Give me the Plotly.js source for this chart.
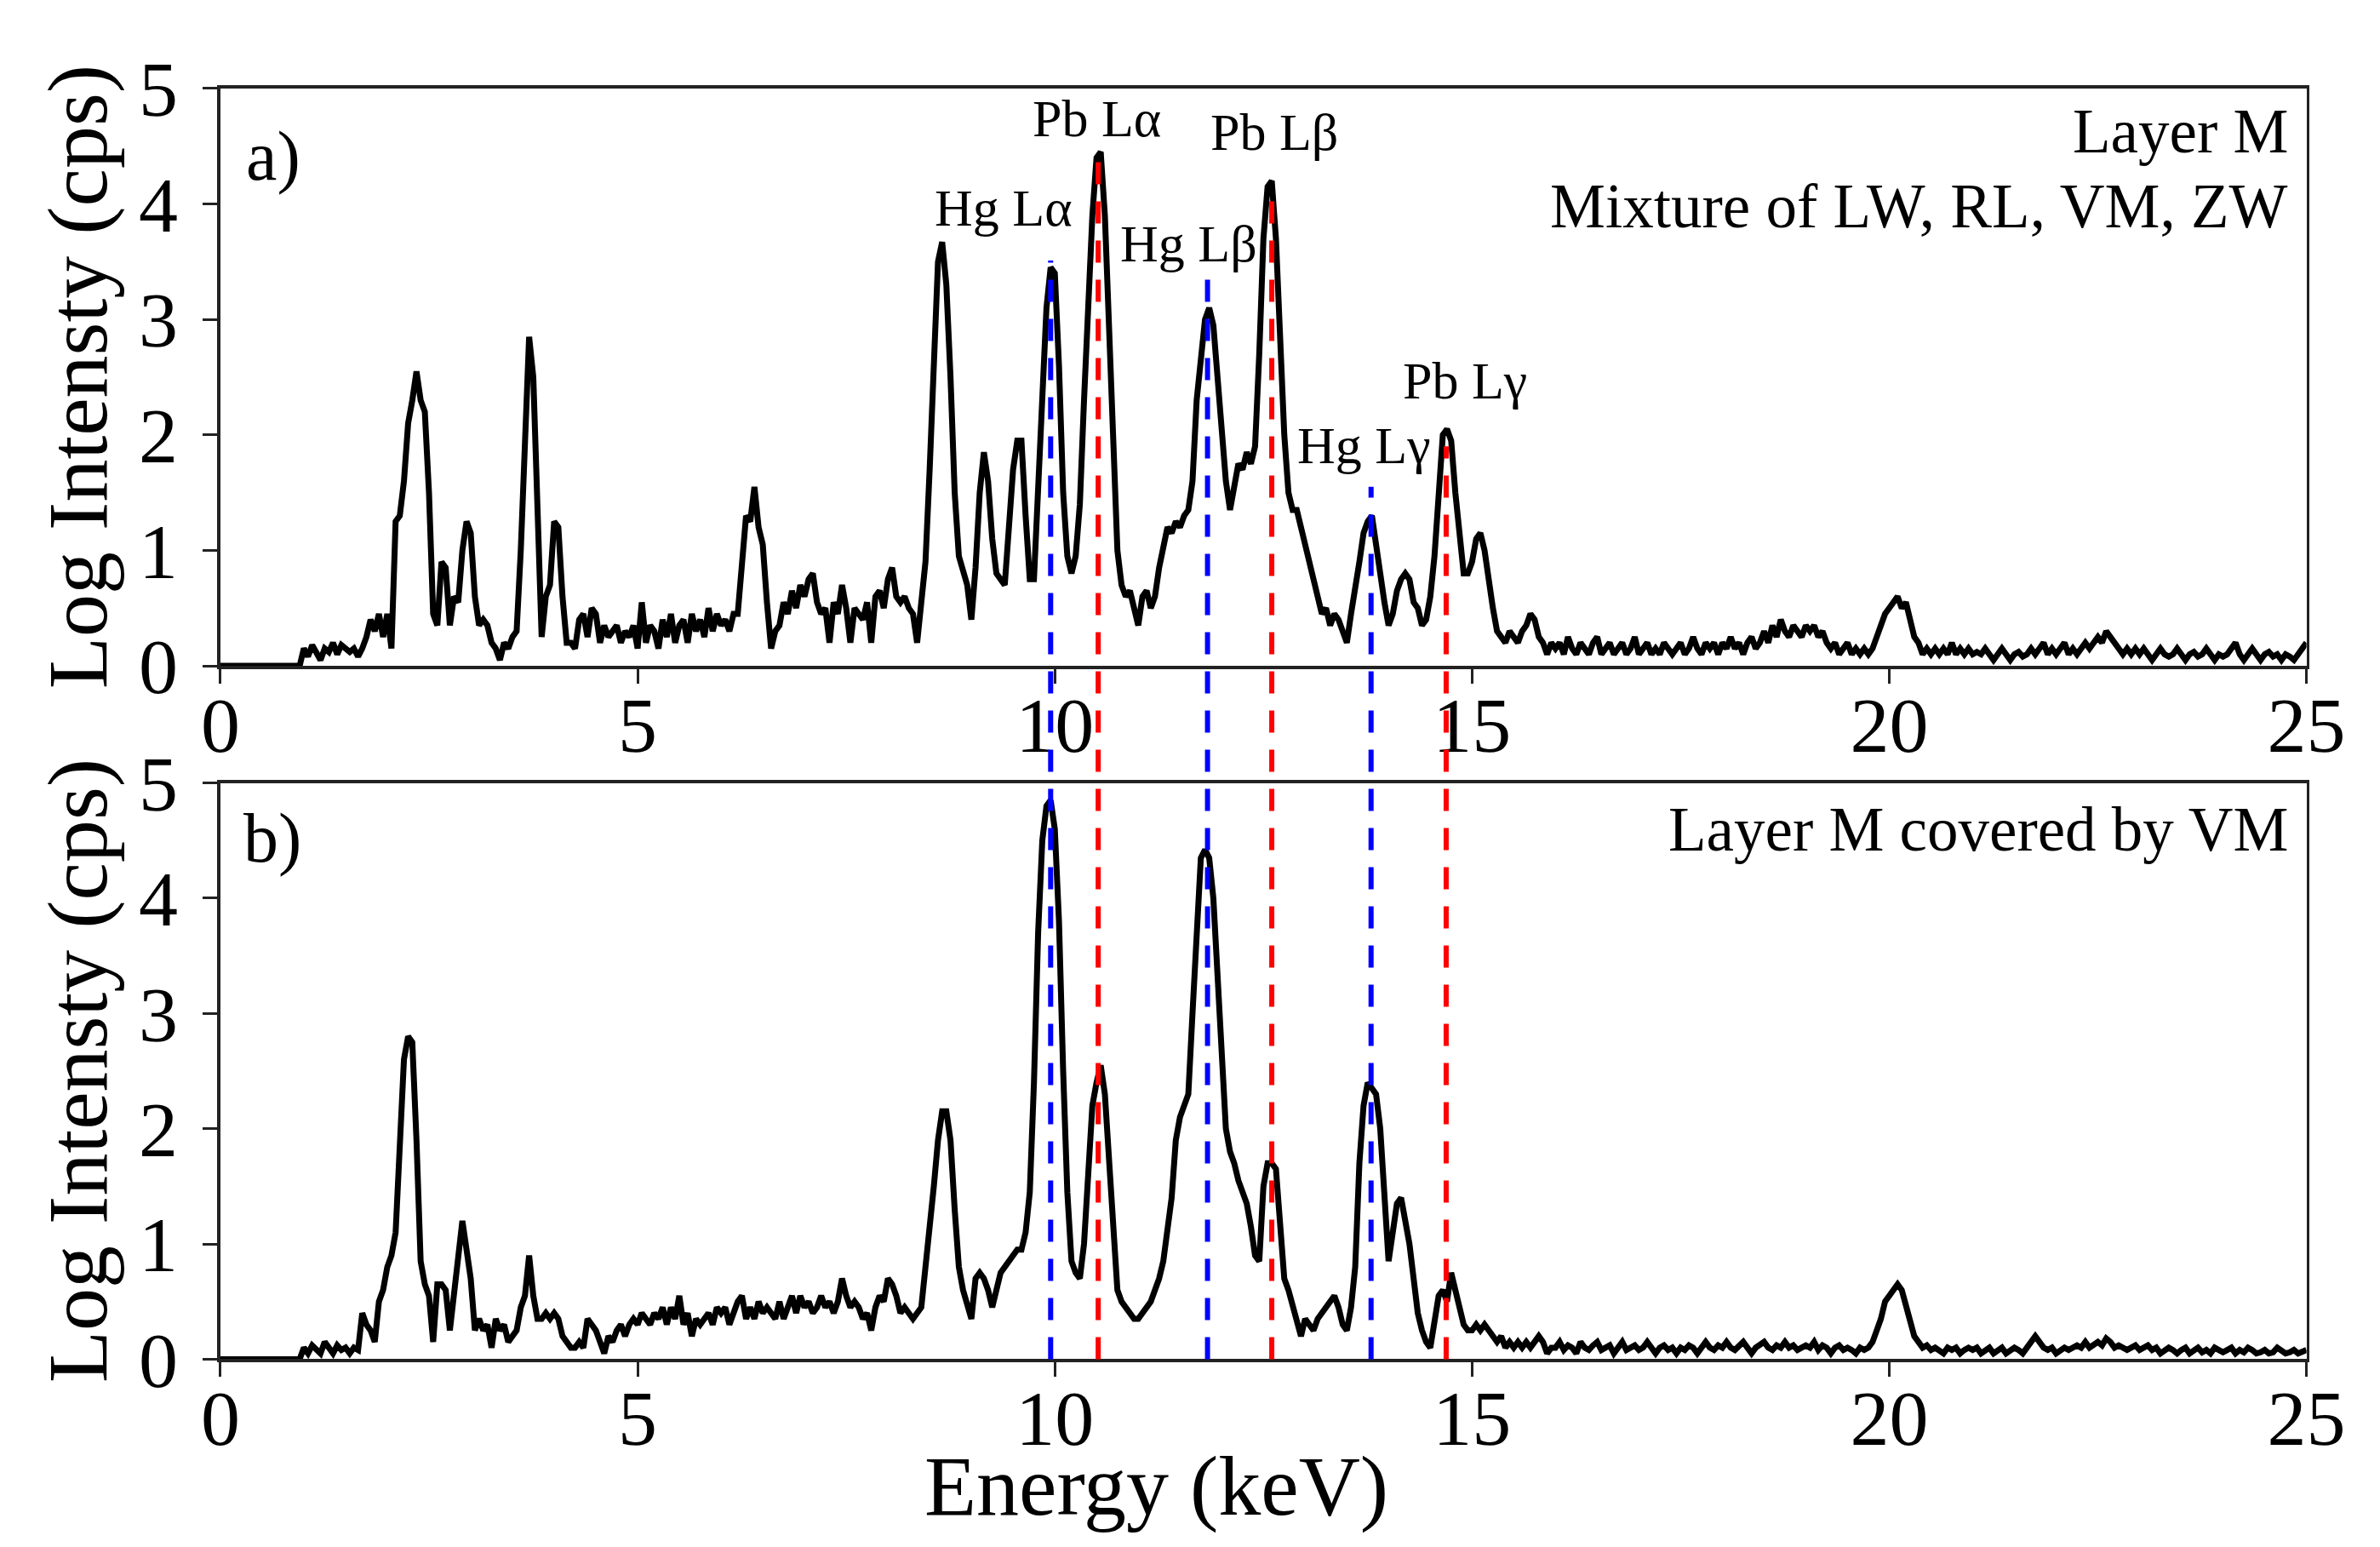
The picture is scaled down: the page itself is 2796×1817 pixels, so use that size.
<!DOCTYPE html>
<html lang="en">
<head>
    <meta charset="UTF-8">
    <title>XRF spectra - Layer M</title>
    <script src="https://cdn.plot.ly/plotly-3.0.1.min.js"></script>
    <style>
        body { margin: 0; padding: 0; background: #fff; }
        #chart { width: 2796px; height: 1817px; }
    </style>
</head>
<body>
    <div id="chart"></div>
    <script>
        // channel grid: 0 - 25 keV, 0.05 keV per point (501 points)
        const STEP = 0.05;

        // a) Layer M, mixture of LW, RL, VM, ZW  (one row = 0.5 keV)
        const spectrumA = [
            0, 0, 0, 0, 0, 0, 0, 0, 0, 0,                                   // 0.0
            0, 0, 0, 0, 0, 0, 0, 0, 0, 0,                                   // 0.5
            0.15, 0.08, 0.18, 0.10, 0.05, 0.15, 0.12, 0.20, 0.10, 0.18,     // 1.0
            0.15, 0.12, 0.15, 0.08, 0.15, 0.25, 0.40, 0.30, 0.45, 0.25,     // 1.5
            0.45, 0.15, 1.25, 1.30, 1.60, 2.10, 2.30, 2.55, 2.30, 2.20,     // 2.0
            1.50, 0.45, 0.35, 0.90, 0.85, 0.35, 0.60, 0.55, 1.00, 1.25,     // 2.5
            1.15, 0.60, 0.35, 0.40, 0.35, 0.20, 0.15, 0.05, 0.20, 0.15,     // 3.0
            0.25, 0.30, 1.00, 2.00, 2.85, 2.50, 1.20, 0.25, 0.60, 0.70,     // 3.5
            1.25, 1.20, 0.60, 0.20, 0.20, 0.15, 0.40, 0.45, 0.25, 0.50,     // 4.0
            0.45, 0.20, 0.35, 0.25, 0.30, 0.35, 0.20, 0.30, 0.25, 0.35,     // 4.5
            0.15, 0.55, 0.20, 0.35, 0.30, 0.15, 0.40, 0.25, 0.45, 0.20,     // 5.0
            0.35, 0.40, 0.20, 0.45, 0.30, 0.40, 0.25, 0.50, 0.30, 0.45,     // 5.5
            0.35, 0.40, 0.30, 0.45, 0.45, 0.90, 1.30, 1.25, 1.55, 1.20,     // 6.0
            1.05, 0.55, 0.15, 0.30, 0.35, 0.55, 0.45, 0.65, 0.50, 0.70,     // 6.5
            0.60, 0.75, 0.80, 0.55, 0.45, 0.50, 0.20, 0.55, 0.45, 0.70,     // 7.0
            0.50, 0.20, 0.50, 0.45, 0.40, 0.55, 0.20, 0.60, 0.65, 0.50,     // 7.5
            0.75, 0.85, 0.60, 0.55, 0.60, 0.50, 0.45, 0.20, 0.55, 0.90,     // 8.0
            1.70, 2.70, 3.50, 3.67, 3.30, 2.50, 1.50, 0.95, 0.80, 0.70,     // 8.5
            0.40, 0.85, 1.50, 1.85, 1.60, 1.10, 0.80, 0.75, 0.70, 1.20,     // 9.0
            1.70, 1.95, 1.95, 1.30, 0.75, 0.75, 1.50, 2.40, 3.10, 3.45,     // 9.5
            3.40, 2.60, 1.50, 0.95, 0.80, 0.95, 1.40, 2.30, 3.20, 3.90,     // 10.0
            4.40, 4.45, 3.90, 2.90, 1.70, 1.00, 0.70, 0.60, 0.65, 0.50,     // 10.5
            0.35, 0.60, 0.65, 0.50, 0.60, 0.85, 1.00, 1.20, 1.15, 1.25,     // 11.0
            1.20, 1.30, 1.35, 1.60, 2.30, 2.70, 3.00, 3.10, 2.95, 2.50,     // 11.5
            2.00, 1.60, 1.35, 1.55, 1.75, 1.70, 1.85, 1.75, 1.90, 2.70,     // 12.0
            3.70, 4.15, 4.20, 3.70, 2.80, 2.00, 1.50, 1.35, 1.35, 1.20,     // 12.5
            1.10, 0.90, 0.75, 0.60, 0.45, 0.50, 0.35, 0.45, 0.40, 0.30,     // 13.0
            0.20, 0.45, 0.65, 0.90, 1.15, 1.25, 1.30, 1.00, 0.80, 0.55,     // 13.5
            0.35, 0.45, 0.65, 0.75, 0.80, 0.75, 0.55, 0.50, 0.35, 0.40,     // 14.0
            0.60, 0.95, 1.45, 2.00, 2.05, 1.95, 1.50, 1.10, 0.80, 0.80,     // 14.5
            0.90, 1.10, 1.15, 1.00, 0.70, 0.50, 0.30, 0.25, 0.20, 0.30,     // 15.0
            0.25, 0.20, 0.30, 0.35, 0.45, 0.40, 0.25, 0.20, 0.10, 0.20,     // 15.5
            0.15, 0.20, 0.10, 0.25, 0.15, 0.10, 0.20, 0.15, 0.10, 0.20,     // 16.0
            0.25, 0.10, 0.15, 0.20, 0.10, 0.15, 0.20, 0.10, 0.15, 0.25,     // 16.5
            0.10, 0.15, 0.20, 0.10, 0.15, 0.10, 0.20, 0.15, 0.10, 0.15,     // 17.0
            0.20, 0.10, 0.15, 0.25, 0.15, 0.10, 0.20, 0.15, 0.20, 0.10,     // 17.5
            0.20, 0.15, 0.25, 0.15, 0.20, 0.10, 0.20, 0.25, 0.15, 0.20,     // 18.0
            0.30, 0.20, 0.35, 0.25, 0.40, 0.30, 0.25, 0.35, 0.30, 0.25,     // 18.5
            0.35, 0.30, 0.35, 0.25, 0.30, 0.20, 0.15, 0.20, 0.10, 0.15,     // 19.0
            0.20, 0.10, 0.15, 0.10, 0.15, 0.10, 0.15, 0.25, 0.35, 0.45,     // 19.5
            0.50, 0.55, 0.60, 0.50, 0.55, 0.40, 0.25, 0.20, 0.10, 0.15,     // 20.0
            0.10, 0.15, 0.10, 0.15, 0.10, 0.20, 0.10, 0.15, 0.10, 0.15,     // 20.5
            0.10, 0.12, 0.10, 0.15, 0.10, 0.05, 0.10, 0.15, 0.10, 0.05,     // 21.0
            0.10, 0.12, 0.08, 0.10, 0.15, 0.10, 0.15, 0.20, 0.10, 0.15,     // 21.5
            0.10, 0.15, 0.20, 0.10, 0.15, 0.10, 0.15, 0.20, 0.15, 0.20,     // 22.0
            0.25, 0.20, 0.30, 0.25, 0.20, 0.15, 0.10, 0.15, 0.10, 0.15,     // 22.5
            0.10, 0.15, 0.10, 0.05, 0.10, 0.15, 0.10, 0.08, 0.10, 0.15,     // 23.0
            0.10, 0.05, 0.10, 0.12, 0.08, 0.10, 0.15, 0.10, 0.05, 0.10,     // 23.5
            0.08, 0.10, 0.15, 0.20, 0.10, 0.05, 0.10, 0.15, 0.10, 0.05,     // 24.0
            0.10, 0.12, 0.08, 0.10, 0.05, 0.10, 0.08, 0.05, 0.10, 0.15,     // 24.5
            0.20                                                            // 25.0
        ];

        // b) Layer M covered by VM
        const spectrumB = [
            0, 0, 0, 0, 0, 0, 0, 0, 0, 0,                                   // 0.0
            0, 0, 0, 0, 0, 0, 0, 0, 0, 0,                                   // 0.5
            0.10, 0.05, 0.12, 0.08, 0.05, 0.15, 0.10, 0.05, 0.12, 0.08,     // 1.0
            0.10, 0.05, 0.10, 0.08, 0.40, 0.30, 0.25, 0.15, 0.50, 0.60,     // 1.5
            0.80, 0.90, 1.10, 2.00, 2.60, 2.80, 2.75, 1.90, 0.85, 0.65,     // 2.0
            0.55, 0.15, 0.65, 0.65, 0.60, 0.25, 0.55, 0.85, 1.20, 0.95,     // 2.5
            0.70, 0.25, 0.35, 0.25, 0.30, 0.10, 0.35, 0.25, 0.30, 0.15,     // 3.0
            0.20, 0.25, 0.45, 0.55, 0.90, 0.55, 0.35, 0.35, 0.40, 0.35,     // 3.5
            0.40, 0.35, 0.20, 0.15, 0.10, 0.10, 0.15, 0.10, 0.35, 0.30,     // 4.0
            0.25, 0.15, 0.05, 0.20, 0.15, 0.25, 0.30, 0.20, 0.30, 0.35,     // 4.5
            0.30, 0.40, 0.35, 0.30, 0.40, 0.35, 0.45, 0.30, 0.45, 0.35,     // 5.0
            0.55, 0.30, 0.40, 0.20, 0.35, 0.30, 0.35, 0.40, 0.30, 0.45,     // 5.5
            0.40, 0.45, 0.30, 0.40, 0.50, 0.55, 0.35, 0.45, 0.35, 0.50,     // 6.0
            0.40, 0.45, 0.40, 0.35, 0.50, 0.35, 0.45, 0.55, 0.40, 0.55,     // 6.5
            0.45, 0.50, 0.40, 0.45, 0.55, 0.45, 0.50, 0.40, 0.50, 0.70,     // 7.0
            0.55, 0.45, 0.50, 0.45, 0.35, 0.40, 0.25, 0.45, 0.55, 0.50,     // 7.5
            0.70, 0.65, 0.55, 0.40, 0.45, 0.40, 0.35, 0.40, 0.45, 0.80,     // 8.0
            1.10, 1.50, 1.90, 2.15, 2.15, 1.90, 1.30, 0.80, 0.60, 0.45,     // 8.5
            0.35, 0.70, 0.75, 0.70, 0.60, 0.45, 0.60, 0.75, 0.80, 0.85,     // 9.0
            0.90, 0.95, 0.95, 1.10, 1.45, 2.40, 3.70, 4.50, 4.80, 4.85,     // 9.5
            4.60, 3.80, 2.50, 1.45, 0.85, 0.75, 0.70, 1.00, 1.60, 2.20,     // 10.0
            2.40, 2.55, 2.30, 1.70, 1.20, 0.60, 0.50, 0.45, 0.40, 0.35,     // 10.5
            0.35, 0.40, 0.45, 0.50, 0.60, 0.70, 0.85, 1.10, 1.40, 1.90,     // 11.0
            2.10, 2.20, 2.30, 3.00, 3.80, 4.35, 4.42, 4.35, 4.00, 3.40,     // 11.5
            2.70, 2.00, 1.80, 1.70, 1.55, 1.45, 1.35, 1.15, 0.90, 0.85,     // 12.0
            1.50, 1.70, 1.70, 1.65, 1.10, 0.70, 0.60, 0.45, 0.35, 0.20,     // 12.5
            0.35, 0.30, 0.25, 0.35, 0.40, 0.45, 0.50, 0.55, 0.45, 0.30,     // 13.0
            0.25, 0.45, 0.80, 1.70, 2.20, 2.40, 2.35, 2.30, 2.00, 1.30,     // 13.5
            0.85, 1.10, 1.35, 1.40, 1.20, 1.00, 0.70, 0.40, 0.25, 0.15,     // 14.0
            0.10, 0.35, 0.55, 0.60, 0.50, 0.75, 0.60, 0.45, 0.30, 0.25,     // 14.5
            0.25, 0.30, 0.25, 0.30, 0.25, 0.20, 0.15, 0.20, 0.10, 0.15,     // 15.0
            0.10, 0.15, 0.10, 0.15, 0.10, 0.15, 0.20, 0.15, 0.05, 0.10,     // 15.5
            0.10, 0.15, 0.08, 0.12, 0.10, 0.05, 0.15, 0.10, 0.08, 0.12,     // 16.0
            0.15, 0.08, 0.10, 0.12, 0.05, 0.10, 0.15, 0.08, 0.10, 0.12,     // 16.5
            0.08, 0.10, 0.15, 0.10, 0.05, 0.10, 0.12, 0.08, 0.10, 0.05,     // 17.0
            0.10, 0.08, 0.12, 0.10, 0.05, 0.10, 0.15, 0.10, 0.08, 0.12,     // 17.5
            0.10, 0.15, 0.10, 0.08, 0.12, 0.15, 0.10, 0.05, 0.10, 0.12,     // 18.0
            0.15, 0.10, 0.08, 0.12, 0.10, 0.15, 0.10, 0.12, 0.08, 0.10,     // 18.5
            0.12, 0.10, 0.15, 0.08, 0.12, 0.10, 0.05, 0.10, 0.12, 0.08,     // 19.0
            0.10, 0.08, 0.05, 0.10, 0.08, 0.10, 0.15, 0.25, 0.35, 0.50,     // 19.5
            0.55, 0.60, 0.65, 0.60, 0.45, 0.35, 0.20, 0.15, 0.10, 0.12,     // 20.0
            0.08, 0.10, 0.08, 0.05, 0.10, 0.08, 0.10, 0.05, 0.08, 0.10,     // 20.5
            0.08, 0.10, 0.05, 0.08, 0.10, 0.05, 0.08, 0.10, 0.05, 0.08,     // 21.0
            0.10, 0.08, 0.05, 0.10, 0.15, 0.20, 0.15, 0.10, 0.08, 0.10,     // 21.5
            0.05, 0.08, 0.10, 0.08, 0.10, 0.12, 0.10, 0.15, 0.10, 0.12,     // 22.0
            0.15, 0.12, 0.18, 0.15, 0.10, 0.12, 0.10, 0.08, 0.10, 0.12,     // 22.5
            0.08, 0.10, 0.12, 0.08, 0.10, 0.05, 0.08, 0.10, 0.08, 0.05,     // 23.0
            0.08, 0.10, 0.05, 0.08, 0.10, 0.06, 0.08, 0.05, 0.10, 0.08,     // 23.5
            0.06, 0.08, 0.10, 0.05, 0.08, 0.06, 0.10, 0.08, 0.05, 0.06,     // 24.0
            0.08, 0.05, 0.06, 0.10, 0.08, 0.05, 0.06, 0.08, 0.05, 0.06,     // 24.5
            0.08                                                            // 25.0
        ];

        // emission lines (dashed markers), top end given in panel a) units
        const lineElements = ['Hg', 'Pb', 'Hg', 'Pb', 'Hg', 'Pb'];
        const lineEnergy   = [9.95, 10.52, 11.83, 12.60, 13.79, 14.69];
        const lineTop      = [3.51, 4.48, 3.37, 4.15, 1.55, 1.90];

        // peak labels in panel a)
        const peakLabels  = ['Hg Lα', 'Pb Lα', 'Hg Lβ', 'Pb Lβ', 'Hg Lγ', 'Pb Lγ'];
        const labelEnergy = [9.39, 10.50, 11.60, 12.63, 13.71, 14.92];
        const labelHeight = [3.97, 4.74, 3.66, 4.62, 1.91, 2.47];

        const tickVals = [0, 5, 10, 15, 20, 25];
        const yTickVals = [0, 1, 2, 3, 4, 5];

        const energy = spectrumA.map((_, i) => +(i * STEP).toFixed(2));

        const FONT = '"Liberation Serif", "Times New Roman", Times, serif';
        const elementColor = { Hg: '#0000ff', Pb: '#ff0000' };

        // panel placement (paper fractions)
        const xDomain = [0.0926, 0.9691];
        const topDomain = [0.5696, 0.9428];
        const botDomain = [0.1214, 0.4939];

        const traces = [
            { x: energy, y: spectrumA, xaxis: 'x', yaxis: 'y', type: 'scatter', mode: 'lines',
              line: { color: '#000', width: 7 }, showlegend: false, hoverinfo: 'skip' },
            { x: energy, y: spectrumB, xaxis: 'x2', yaxis: 'y2', type: 'scatter', mode: 'lines',
              line: { color: '#000', width: 7 }, showlegend: false, hoverinfo: 'skip' }
        ];

        function xAxis(anchor) {
            return {
                domain: xDomain, anchor: anchor, range: [0, 25],
                tickvals: tickVals, ticks: 'outside', ticklen: 17, tickwidth: 3, tickcolor: '#222',
                showline: true, linecolor: '#222', linewidth: 3.5, mirror: true,
                showgrid: false, zeroline: false,
                tickfont: { family: FONT, size: 92, color: '#000' },
                ticklabelstandoff: -30
            };
        }
        function yAxis(anchor, domain) {
            return {
                domain: domain, anchor: anchor, range: [0, 5],
                tickvals: yTickVals, ticks: 'outside', ticklen: 17, tickwidth: 3, tickcolor: '#222',
                showline: true, linecolor: '#222', linewidth: 3.5, mirror: true,
                showgrid: false, zeroline: false,
                tickfont: { family: FONT, size: 92, color: '#000' },
                ticklabelstandoff: 11
            };
        }

        // dashed lines run from the top end in panel a) down to the bottom of panel b)
        const topSpan = topDomain[1] - topDomain[0];
        const shapes = lineEnergy.map((e, i) => ({
            type: 'line', xref: 'x', yref: 'paper',
            x0: e, x1: e,
            y0: botDomain[0], y1: topDomain[0] + (lineTop[i] / 5) * topSpan,
            line: { color: elementColor[lineElements[i]], width: 6, dash: '26px,20px' },
            layer: 'above'
        }));

        const annotations = peakLabels.map((t, i) => ({
            text: t, x: labelEnergy[i], y: labelHeight[i], xref: 'x', yref: 'y',
            xanchor: 'center', yanchor: 'middle', showarrow: false,
            font: { family: FONT, size: 62, color: '#000' }
        }));

        const paperText = [
            { text: 'a)', x: 287 / 2796, y: 1 - 183 / 1817, xanchor: 'left', size: 82 },
            { text: 'b)', x: 284 / 2796, y: 1 - 984 / 1817, xanchor: 'left', size: 82 },
            { text: 'Layer M', x: 2690 / 2796, y: 1 - 155 / 1817, xanchor: 'right', size: 73 },
            { text: 'Mixture of LW, RL, VM, ZW', x: 2690 / 2796, y: 1 - 243 / 1817, xanchor: 'right', size: 73 },
            { text: 'Layer M covered by VM', x: 2690 / 2796, y: 1 - 974 / 1817, xanchor: 'right', size: 73 },
            { text: 'Energy (keV)', x: 1358 / 2796, y: 1 - 1745 / 1817, xanchor: 'center', size: 100 }
        ];
        paperText.forEach(p => annotations.push({
            text: p.text, x: p.x, y: p.y, xref: 'paper', yref: 'paper',
            xanchor: p.xanchor, yanchor: 'middle', showarrow: false,
            font: { family: FONT, size: p.size, color: '#000' }
        }));

        // rotated y titles, one per panel
        [topDomain, botDomain].forEach(d => annotations.push({
            text: 'Log Intensty (cps)', textangle: -90,
            x: 92 / 2796, y: (d[0] + d[1]) / 2, xref: 'paper', yref: 'paper',
            xanchor: 'center', yanchor: 'middle', showarrow: false,
            font: { family: FONT, size: 100, color: '#000' }
        }));

        const layout = {
            width: 2796, height: 1817,
            margin: { l: 0, r: 0, t: 0, b: 0 },
            paper_bgcolor: '#fff', plot_bgcolor: '#fff',
            xaxis: xAxis('y'),
            yaxis: yAxis('x', topDomain),
            xaxis2: xAxis('y2'),
            yaxis2: yAxis('x2', botDomain),
            shapes: shapes,
            annotations: annotations,
            showlegend: false
        };

        Plotly.newPlot('chart', traces, layout, { staticPlot: true });
    </script>
</body>
</html>
